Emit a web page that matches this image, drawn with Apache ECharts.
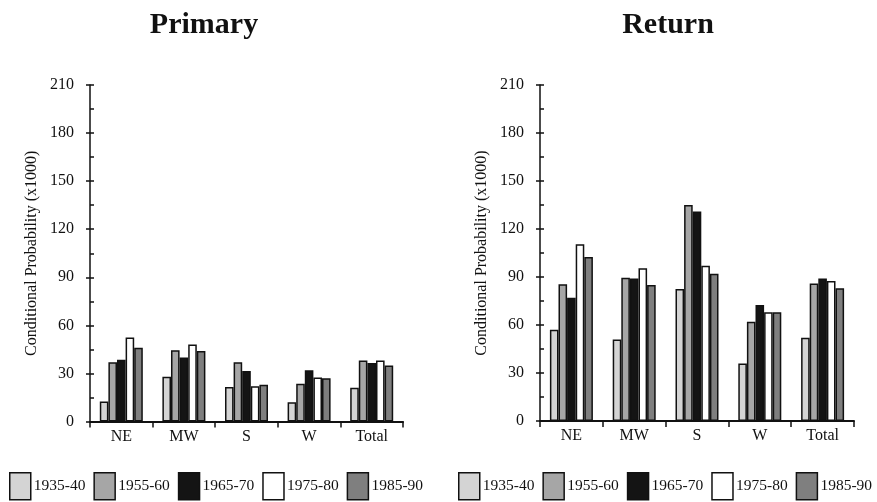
<!DOCTYPE html>
<html>
<head>
<meta charset="utf-8">
<script src="https://cdn.jsdelivr.net/npm/echarts@6/dist/echarts.min.js"></script>
<style>
html,body{margin:0;padding:0;background:#fff;}
#c{width:877px;height:502px;}
</style>
</head>
<body>
<div id="c"></div>
<script>
// ---- data ----
const categories = ['NE', 'MW', 'S', 'W', 'Total'];
const periods = ['1935-40', '1955-60', '1965-70', '1975-80', '1985-90'];
const panelTitles = ['Primary', 'Return'];
const yAxisName = 'Conditional Probability (x1000)';
const yMin = 0, yMax = 210, yInterval = 30;

// Primary
const primary1935 = [12.5, 28, 21.5, 12, 21];
const primary1955 = [37, 44.5, 37, 23.5, 38];
const primary1965 = [38.5, 40, 31.5, 32, 36.5];
const primary1975 = [52.5, 48, 22, 27.5, 38];
const primary1985 = [46, 44, 23, 27, 35];

// Return
const return1935 = [57, 51, 82.5, 36, 52];
const return1955 = [85.5, 89.5, 135, 62, 86];
const return1965 = [77, 89, 131, 72.5, 89];
const return1975 = [110.5, 95.5, 97, 68, 87.5];
const return1985 = [102.5, 85, 92, 68, 83];

const primaryData = [primary1935, primary1955, primary1965, primary1975, primary1985];
const returnData = [return1935, return1955, return1965, return1975, return1985];

// ---- style ----
const fills = ['#d4d4d4', '#a6a6a6', '#141414', '#ffffff', '#7f7f7f'];
const serif = '"Liberation Serif", "Times New Roman", serif';

const grids = [
  { left: 90, top: 85, width: 313, height: 336.5 },
  { left: 540, top: 85, width: 314, height: 336 }
];

const xAxes = grids.map((g, i) => ({
  type: 'category',
  gridIndex: i,
  data: categories,
  axisLine: { lineStyle: { color: '#111', width: 2 } },
  axisTick: { show: true, length: 6, lineStyle: { color: '#111', width: 1.5 } },
  axisLabel: { color: '#111', fontFamily: serif, fontSize: 16, margin: 7 }
}));

const yAxes = [];
grids.forEach((g, i) => {
  yAxes.push({
    type: 'value', gridIndex: i, min: yMin, max: yMax, interval: yInterval,
    name: yAxisName, nameLocation: 'middle', nameGap: 50,
    nameTextStyle: { fontFamily: serif, fontSize: 16, color: '#111' },
    axisLine: { show: true, lineStyle: { color: '#111', width: 1.5 } },
    axisTick: { show: true, length: 4, lineStyle: { color: '#111', width: 1.5 } },
    axisLabel: { color: '#111', fontFamily: serif, fontSize: 16, margin: 16 },
    splitLine: { show: false }
  });
  yAxes.push({
    type: 'value', gridIndex: i, min: yMin, max: yMax, interval: yInterval,
    position: 'left',
    axisLine: { show: false },
    axisTick: { show: true, inside: true, length: 4, lineStyle: { color: '#111', width: 1.5 } },
    minorTick: { show: true, splitNumber: 2, length: 4, lineStyle: { color: '#111', width: 1.5 } },
    axisLabel: { show: false },
    splitLine: { show: false }
  });
});

const series = [];
[primaryData, returnData].forEach((panel, gi) => {
  panel.forEach((vals, k) => {
    series.push({
      type: 'bar',
      name: periods[k],
      xAxisIndex: gi,
      yAxisIndex: gi * 2,
      data: vals,
      barWidth: 8.6,
      barGap: '0%',
      itemStyle: { color: fills[k], borderColor: '#111', borderWidth: 1.5 },
      emphasis: { disabled: true },
      animation: false
    });
  });
});

const legendBase = {
  orient: 'horizontal',
  top: 467,
  width: 440,
  itemWidth: 21,
  itemHeight: 27,
  itemGap: 8,
  icon: 'rect',
  data: periods,
  textStyle: { fontFamily: serif, fontSize: 15.5, color: '#111', padding: [0, 0, 0, -2] },
  itemStyle: { borderColor: '#111', borderWidth: 1.5 }
};

const option = {
  backgroundColor: '#ffffff',
  animation: false,
  title: [
    { text: panelTitles[0], left: 199, top: 5, textAlign: 'center',
      textStyle: { fontFamily: serif, fontSize: 30, fontWeight: 'bold', color: '#111' } },
    { text: panelTitles[1], left: 663, top: 5, textAlign: 'center',
      textStyle: { fontFamily: serif, fontSize: 30, fontWeight: 'bold', color: '#111' } }
  ],
  grid: grids,
  xAxis: xAxes,
  yAxis: yAxes,
  legend: [
    Object.assign({}, legendBase, { left: 4 }),
    Object.assign({}, legendBase, { left: 453 })
  ],
  series: series
};

const chart = echarts.init(document.getElementById('c'), null, { renderer: 'canvas' });
chart.setOption(option);
</script>
</body>
</html>
